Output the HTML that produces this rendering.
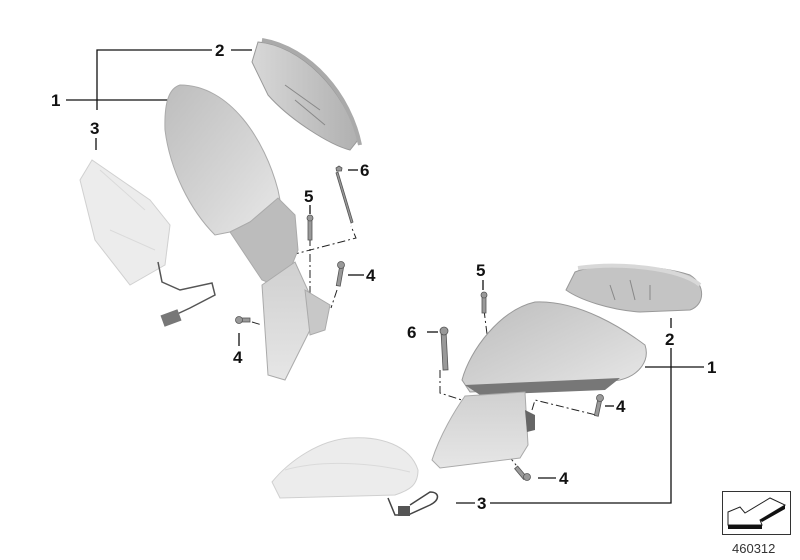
<!DOCTYPE html>
<html><head><meta charset="utf-8"><style>
html,body{margin:0;padding:0;background:#fff}
svg{display:block}
text{font-family:"Liberation Sans",sans-serif;font-weight:bold;font-size:17px;fill:#111}
</style></head><body>
<svg width="800" height="560" viewBox="0 0 800 560" xmlns="http://www.w3.org/2000/svg">
<defs>
<linearGradient id="g1" x1="0" y1="0" x2="1" y2="1"><stop offset="0" stop-color="#bdbdbd"/><stop offset="0.6" stop-color="#d6d6d6"/><stop offset="1" stop-color="#e8e8e8"/></linearGradient>
<linearGradient id="g2" x1="0" y1="0" x2="1" y2="0"><stop offset="0" stop-color="#d8d8d8"/><stop offset="1" stop-color="#b0b0b0"/></linearGradient>
<linearGradient id="g3" x1="0" y1="0" x2="0" y2="1"><stop offset="0" stop-color="#d0d0d0"/><stop offset="1" stop-color="#e6e6e6"/></linearGradient>
</defs>
<g stroke="#111" stroke-width="1.3" fill="none">
<!-- left callouts -->
<polyline points="212,50 97,50 97,110"/>
<line x1="231" y1="50" x2="252" y2="50"/>
<line x1="66" y1="100" x2="168" y2="100"/>
<line x1="96" y1="138" x2="96" y2="150"/>
<line x1="358" y1="170" x2="348" y2="170"/>
<line x1="310" y1="205" x2="310" y2="214"/>
<line x1="364" y1="275" x2="348" y2="275"/>
<line x1="239" y1="333" x2="239" y2="346"/>
<!-- right callouts -->
<polyline points="671,348 671,503 490,503"/>
<line x1="671" y1="318" x2="671" y2="328"/>
<line x1="704" y1="367" x2="645" y2="367"/>
<line x1="475" y1="503" x2="456" y2="503"/>
<line x1="483" y1="280" x2="483" y2="290"/>
<line x1="427" y1="332" x2="438" y2="332"/>
<line x1="614" y1="406" x2="605" y2="406"/>
<line x1="556" y1="478" x2="538" y2="478"/>
</g>
<!-- dash-dot lines -->
<g stroke="#222" stroke-width="1" fill="none" stroke-dasharray="8,3,2,3">
<polyline points="291,255 356,238 351,226"/>
<line x1="310" y1="238" x2="310" y2="300"/>
<line x1="337" y1="290" x2="331" y2="308"/>
<line x1="252" y1="322" x2="262" y2="325"/>
<line x1="484" y1="310" x2="488" y2="342"/>
<polyline points="440,370 440,393 468,402"/>
<polyline points="532,410 535,400 596,415 598,403"/>
<line x1="508" y1="455" x2="520" y2="470"/>
</g>
<!-- LEFT GROUP -->
<!-- lamp 3 -->
<path d="M92,160 L80,180 L95,240 L130,285 L165,265 L170,225 L150,200 Z" fill="#ececec" stroke="#d0d0d0"/>
<path d="M100,170 L145,210 M110,230 L155,250" stroke="#dadada" fill="none"/>
<path d="M158,262 L162,282 L180,290 L212,283 L215,295 L190,308 L175,315" stroke="#555" stroke-width="1.5" fill="none"/>
<rect x="162" y="312" width="18" height="12" fill="#777" transform="rotate(-20 171 318)"/>
<!-- cap 2 -->
<path d="M258,42 C300,45 345,90 358,140 L350,150 C330,145 290,120 268,95 L252,62 Z" fill="url(#g2)" stroke="#999"/>
<path d="M262,40 C310,48 350,95 360,145" stroke="#aaa" stroke-width="4" fill="none"/>
<path d="M285,85 L320,110 M295,100 L325,125" stroke="#888" fill="none"/>
<!-- mirror 1 -->
<path d="M180,85 C230,85 265,140 278,190 L280,200 C265,215 245,225 230,232 L215,235 C190,210 170,170 165,130 C164,100 170,88 180,85 Z" fill="url(#g1)" stroke="#aaa"/>
<path d="M230,232 L250,222 L278,198 L295,215 L298,250 L290,270 L275,285 L262,280 Z" fill="#bcbcbc" stroke="#aaa"/>
<path d="M262,285 L295,262 L310,295 L320,310 L310,330 L295,360 L285,380 L268,375 Z" fill="url(#g3)" stroke="#aaa"/>
<path d="M305,290 L330,305 L325,330 L310,335 Z" fill="#c8c8c8" stroke="#aaa"/>
<!-- screws left -->
<g fill="#999" stroke="#555" stroke-width="0.8">
<path d="M336,168 l3,-2 3,2 -0.5,3 -5,0 z"/><path d="M338,172 L353,222 L351,223 L336,173 z"/>
<rect x="308" y="218" width="4" height="22"/><circle cx="310" cy="218" r="3"/>
<rect x="338" y="266" width="4" height="20" transform="rotate(10 340 276)"/><circle cx="341" cy="265" r="3.5"/>
<rect x="240" y="318" width="10" height="4"/><circle cx="239" cy="320" r="3.5"/>
<!-- right screws -->
<rect x="482" y="295" width="4" height="18"/><circle cx="484" cy="295" r="3"/>
<rect x="442" y="332" width="5" height="38" transform="rotate(-3 444 350)"/><circle cx="444" cy="331" r="4"/>
<rect x="596" y="400" width="4" height="16" transform="rotate(12 598 408)"/><circle cx="600" cy="398" r="3.5"/>
<rect x="518" y="466" width="4" height="14" transform="rotate(-40 520 472)"/><circle cx="527" cy="477" r="3.5"/>
</g>
<text x="215" y="56">2</text>
<text x="51" y="106">1</text>
<text x="90" y="134">3</text>
<text x="360" y="176">6</text>
<text x="304" y="202">5</text>
<text x="366" y="281">4</text>
<text x="233" y="363">4</text>
<!-- RIGHT GROUP -->
<!-- cap -->
<path d="M575,272 C600,262 660,265 690,275 C706,285 705,305 690,310 L640,312 C610,310 580,300 566,290 Z" fill="#c4c4c4" stroke="#999"/>
<path d="M578,268 C620,262 680,268 700,285" stroke="#d8d8d8" stroke-width="4" fill="none"/>
<path d="M610,285 L615,300 M630,280 L635,300 M650,285 L650,300" stroke="#888" fill="none"/>
<!-- mirror -->
<path d="M462,380 C470,350 500,310 535,302 C580,300 625,330 645,345 C650,360 640,375 620,380 L560,388 L470,392 Z" fill="url(#g1)" stroke="#999"/>
<path d="M465,385 L620,378 L605,390 L480,395 Z" fill="#777"/>
<!-- base -->
<path d="M465,396 L525,392 L528,445 L520,458 L440,468 L432,460 C440,435 455,410 465,396 Z" fill="url(#g3)" stroke="#aaa"/>
<path d="M525,410 L535,415 L535,430 L527,432 Z" fill="#666"/>
<!-- lamp -->
<path d="M272,482 C290,460 320,440 350,438 C380,436 410,445 418,470 C418,485 410,490 395,495 L280,498 Z" fill="#ececec" stroke="#d0d0d0"/>
<path d="M285,470 C320,460 370,462 410,472" stroke="#dadada" fill="none"/>
<path d="M388,498 L395,515 L408,515 L430,505 C440,500 440,492 430,492 L410,505" stroke="#444" stroke-width="1.5" fill="none"/>
<rect x="398" y="506" width="12" height="10" fill="#555"/>
<text x="476" y="276">5</text>
<text x="407" y="338">6</text>
<text x="665" y="345">2</text>
<text x="707" y="373">1</text>
<text x="616" y="412">4</text>
<text x="559" y="484">4</text>
<text x="477" y="509">3</text>
<!-- icon -->
<rect x="722.5" y="491.5" width="68" height="43" fill="#fff" stroke="#333" stroke-width="1"/>
<path d="M728,512 L728,525 L762,525 L760,520 L785,505 L770,498 L745,513 L740,507 Z" fill="#fff" stroke="#222" stroke-width="1"/>
<path d="M728,525 L762,525 L762,529 L728,529 Z M760,520 L785,505 L785,509 L762,522 Z" fill="#111"/>
<text x="732" y="553" style="font-weight:normal;font-size:13px;fill:#333">460312</text>
</svg>
</body></html>
